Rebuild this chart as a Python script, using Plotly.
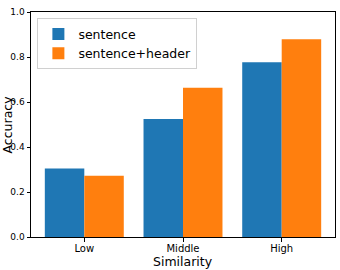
import plotly.graph_objects as go

categories = ["Low", "Middle", "High"]
sentence = [0.305, 0.524, 0.777]
sentence_header = [0.272, 0.663, 0.879]
y_ticks = [0.0, 0.2, 0.4, 0.6, 0.8, 1.0]

FONT = "DejaVu Sans"

fig = go.Figure()
fig.add_trace(go.Bar(x=categories, y=sentence, name="sentence",
                     marker=dict(color="#1f77b4", line=dict(width=0))))
fig.add_trace(go.Bar(x=categories, y=sentence_header, name="sentence+header",
                     marker=dict(color="#ff7f0e", line=dict(width=0))))

fig.update_layout(
    width=340, height=270,
    margin=dict(l=31, r=5, t=12, b=33, autoexpand=False),
    paper_bgcolor="white", plot_bgcolor="white",
    barmode="group", bargap=0.2, bargroupgap=0,
    font=dict(family=FONT, color="black"),
    legend=dict(x=0.021, y=0.972, xanchor="left", yanchor="top",
                bgcolor="rgba(255,255,255,0.8)", bordercolor="#d0d0d0", borderwidth=1,
                font=dict(size=12.5, family=FONT), itemwidth=30, tracegroupgap=0),
    showlegend=True,
    annotations=[
        dict(text="Similarity", xref="paper", yref="paper", x=0.5, y=0,
             xanchor="center", yanchor="middle", yshift=-24, showarrow=False,
             font=dict(size=12.5, family=FONT, color="black")),
        dict(text="Accuracy", xref="paper", yref="paper", x=0, y=0.5,
             xanchor="center", yanchor="middle", xshift=-24, textangle=-90,
             showarrow=False, font=dict(size=12.5, family=FONT, color="black")),
    ],
)
fig.update_xaxes(
    range=[-0.54, 2.54], showline=True, mirror=True, linecolor="black", linewidth=1,
    ticks="outside", ticklen=3.5, tickcolor="black", tickfont=dict(size=10),
    ticklabelstandoff=-2,
    showgrid=False, zeroline=False, automargin=False,
)
fig.update_yaxes(
    range=[0, 1.0], tickvals=y_ticks, tickformat=".1f",
    showline=True, mirror=True, linecolor="black", linewidth=1,
    ticks="outside", ticklen=3.5, tickcolor="black", tickfont=dict(size=9),
    showgrid=False, zeroline=False, automargin=False,
)

fig.write_html("out.html")
